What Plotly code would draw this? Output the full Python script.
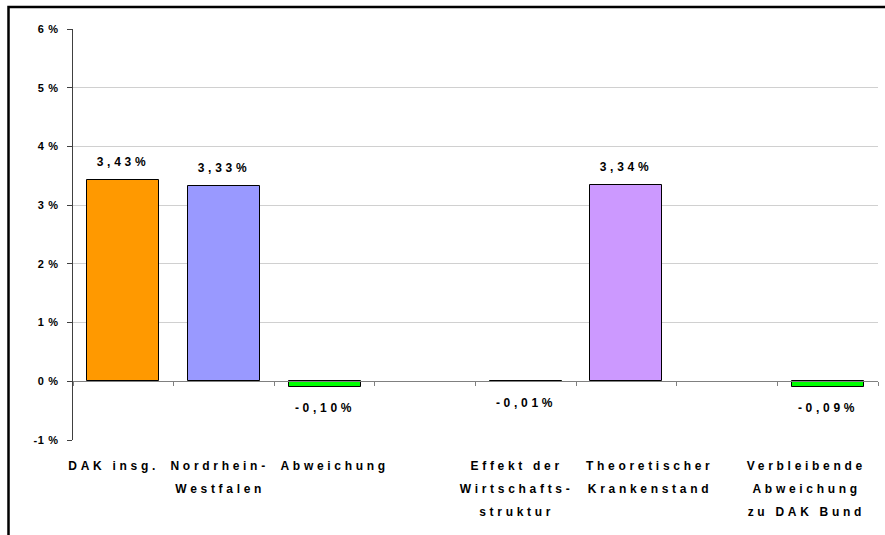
import plotly.graph_objects as go

# ---- data ----
categories = ["DAK insg.", "Nordrhein-\nWestfalen", "Abweichung", "",
              "Effekt der\nWirtschafts-\nstruktur", "Theoretischer\nKrankenstand", "",
              "Verbleibende\nAbweichung\nzu DAK Bund"]
values = [3.43, 3.33, -0.10, None, -0.01, 3.34, None, -0.09]
bar_colors = ["#FF9900", "#9999FF", "#00FF00", "#FFFFFF", "#00FF00", "#CC99FF", "#FFFFFF", "#00FF00"]
y_ticks = [-1, 0, 1, 2, 3, 4, 5, 6]
y_ticktext = ["-1 %", "0 %", "1 %", "2 %", "3 %", "4 %", "5 %", "6 %"]

# ---- style ----
label_xshift = [-10, -4, 10, 0, -9, 24, 0, -21]
FONT = "Liberation Sans, Arial, sans-serif"
ymin, ymax = -1, 6
xs = list(range(len(categories)))

fig = go.Figure()
fig.add_trace(go.Bar(
    x=xs, y=values, width=0.715,
    marker=dict(color=bar_colors, line=dict(color="#000000", width=1)),
    hoverinfo="skip", showlegend=False,
))

annotations = []
# value labels
for i, v in enumerate(values):
    if v is None:
        continue
    txt = f"{v:.2f}".replace(".", ",") + "%"
    annotations.append(dict(
        x=i, y=v, xref="x", yref="y", text=txt, showarrow=False,
        yanchor="bottom" if v > 0 else "top",
        yshift=9 if v > 0 else -12,
        font=dict(family=FONT, size=12, color="#000000", weight="bold"),
    ))
# category labels (one annotation per line)
for i, cat in enumerate(categories):
    if not cat:
        continue
    for j, line in enumerate(cat.split("\n")):
        annotations.append(dict(
            x=i, y=0, xref="x", yref="paper", text=line, showarrow=False,
            yanchor="top", xanchor="center", xshift=label_xshift[i],
            yshift=-17 - 23 * j,
            font=dict(family=FONT, size=12, color="#000000", weight="bold"),
        ))

fig.update_layout(
    width=885, height=535,
    margin=dict(l=73, r=7, t=29, b=95),
    paper_bgcolor="#FFFFFF", plot_bgcolor="#FFFFFF",
    bargap=0,
    annotations=annotations,
    shapes=[dict(type="rect", xref="paper", yref="paper",
                 x0=-(73 - 8.5) / 805, x1=1.2, y0=-0.6, y1=(440 - 7) / 411,
                 line=dict(color="#000000", width=2.5), fillcolor="rgba(0,0,0,0)")],
    xaxis=dict(
        type="linear", range=[-0.5, len(categories) - 0.5],
        tick0=-0.5, dtick=1, ticks="outside", ticklen=4, tickcolor="#808080",
        showticklabels=False, showgrid=False, zeroline=False,
        showline=True, linecolor="#808080", linewidth=1,
        anchor="free", position=(0 - ymin) / (ymax - ymin),
    ),
    yaxis=dict(
        range=[ymin, ymax], tickvals=y_ticks, ticktext=y_ticktext,
        ticks="outside", ticklen=5, tickcolor="#404040",
        showline=True, linecolor="#404040", linewidth=1,
        showgrid=True, gridcolor="#D0D0D0", gridwidth=1, zeroline=False,
        tickfont=dict(family=FONT, size=11, color="#000000", weight="bold"),
        ticklabelstandoff=6,
    ),
)

post = """
var s = document.createElement('style');
s.textContent = 'html,body{margin:0;padding:0;} .annotation-text{letter-spacing:3.7px;} g.ytick text{letter-spacing:0.7px;}';
document.head.appendChild(s);
"""
fig.write_html("out.html", post_script=post, config={"displayModeBar": False})
